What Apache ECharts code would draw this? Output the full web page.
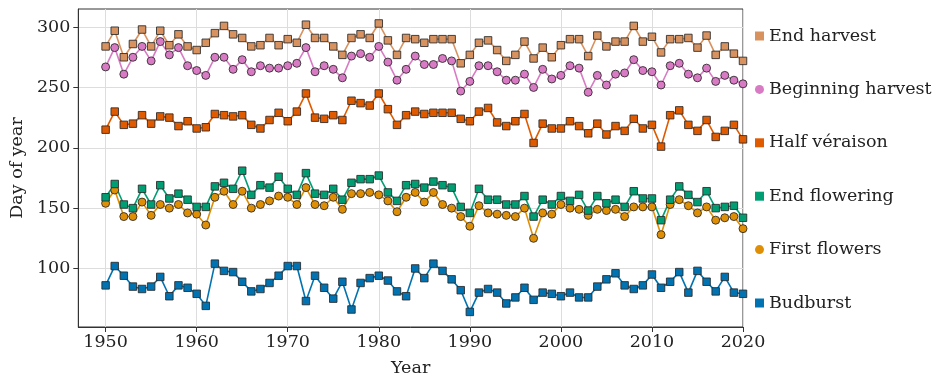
<!DOCTYPE html>
<html>
<head>
<meta charset="utf-8">
<script src="https://cdn.jsdelivr.net/npm/echarts@6/dist/echarts.min.js"></script>
<style>
  html, body { margin: 0; padding: 0; background: #fff; }
  #chart { width: 944px; height: 382px; }
</style>
</head>
<body>
<div id="chart"></div>
<script>
// years on the x axis
const years = [
  1950, 1951, 1952, 1953, 1954, 1955, 1956, 1957, 1958, 1959,
  1960, 1961, 1962, 1963, 1964, 1965, 1966, 1967, 1968, 1969,
  1970, 1971, 1972, 1973, 1974, 1975, 1976, 1977, 1978, 1979,
  1980, 1981, 1982, 1983, 1984, 1985, 1986, 1987, 1988, 1989,
  1990, 1991, 1992, 1993, 1994, 1995, 1996, 1997, 1998, 1999,
  2000, 2001, 2002, 2003, 2004, 2005, 2006, 2007, 2008, 2009,
  2010, 2011, 2012, 2013, 2014, 2015, 2016, 2017, 2018, 2019,
  2020
];
const xTicks = [1950, 1960, 1970, 1980, 1990, 2000, 2010, 2020];
const yTicks = [100, 150, 200, 250, 300];

// day of year for each stage
const budburst = [
  86, 102, 94, 85, 83, 85, 93, 77, 86, 84, 79, 69, 104, 98, 97, 89, 81, 83, 88, 94, 102, 102, 73, 94, 84,
  75, 89, 66, 88, 92, 94, 90, 81, 77, 100, 92, 104, 98, 91, 82, 64, 80, 83, 80, 71, 76, 84, 74, 80, 79,
  77, 80, 76, 76, 85, 91, 96, 86, 83, 86, 95, 84, 89, 97, 80, 98, 89, 81, 93, 80, 79
];
const firstFlowers = [
  154, 165, 143, 143, 155, 144, 153, 150, 153, 146, 145, 136, 159, 164, 153, 164, 150, 153, 156, 160, 159, 153, 167, 153, 152,
  159, 149, 162, 162, 163, 161, 156, 147, 159, 163, 155, 163, 153, 150, 143, 135, 152, 146, 145, 144, 143, 150, 125, 146, 145,
  153, 150, 149, 144, 149, 148, 149, 143, 151, 151, 151, 128, 153, 157, 152, 146, 151, 140, 142, 143, 133
];
const endFlowering = [
  159, 170, 153, 150, 166, 153, 169, 158, 162, 157, 151, 151, 168, 171, 166, 181, 161, 169, 167, 176, 166, 161, 179, 162, 161,
  166, 157, 171, 174, 174, 177, 163, 156, 169, 170, 167, 172, 169, 167, 151, 146, 166, 157, 157, 153, 153, 160, 143, 157, 153,
  160, 156, 161, 148, 160, 154, 157, 151, 164, 158, 158, 140, 157, 168, 161, 155, 164, 150, 151, 152, 142
];
const halfVeraison = [
  215, 230, 219, 220, 227, 220, 226, 225, 218, 222, 216, 217, 228, 227, 226, 227, 219, 216, 223, 229, 222, 230, 245, 225, 224,
  227, 223, 239, 237, 235, 245, 232, 219, 227, 230, 228, 229, 229, 229, 224, 222, 230, 233, 221, 218, 222, 228, 204, 220, 216,
  216, 222, 218, 212, 220, 211, 218, 214, 224, 216, 219, 201, 227, 231, 219, 214, 223, 209, 214, 219, 207
];
const beginningHarvest = [
  267, 283, 261, 275, 284, 272, 288, 277, 283, 268, 264, 260, 275, 275, 265, 273, 263, 268, 266, 266, 268, 270, 283, 263, 268,
  265, 258, 276, 278, 275, 284, 271, 256, 265, 276, 269, 269, 274, 272, 247, 255, 268, 268, 263, 256, 256, 261, 250, 265, 257,
  260, 268, 266, 246, 260, 252, 261, 262, 273, 264, 263, 252, 268, 270, 261, 258, 266, 255, 260, 256, 253
];
const endHarvest = [
  284, 297, 275, 286, 298, 284, 297, 285, 294, 284, 281, 287, 295, 301, 294, 291, 284, 285, 291, 285, 290, 287, 302, 291, 291,
  284, 277, 291, 294, 291, 303, 289, 277, 291, 290, 287, 290, 290, 290, 270, 277, 287, 289, 281, 272, 277, 288, 274, 283, 275,
  285, 290, 290, 276, 293, 284, 288, 288, 301, 288, 292, 279, 290, 290, 291, 283, 293, 277, 284, 278, 272
];

const legendOrder = ['End harvest', 'Beginning harvest', 'Half véraison', 'End flowering', 'First flowers', 'Budburst'];

const font = 'DejaVu Serif';

// drawing order: budburst first, end harvest on top
const stages = [
  { name: 'Budburst', values: budburst, color: '#0173B2', symbol: 'rect' },
  { name: 'First flowers', values: firstFlowers, color: '#DE8F05', symbol: 'circle' },
  { name: 'End flowering', values: endFlowering, color: '#029E73', symbol: 'rect' },
  { name: 'Half véraison', values: halfVeraison, color: '#E05A00', symbol: 'rect' },
  { name: 'Beginning harvest', values: beginningHarvest, color: '#D97AC4', symbol: 'circle' },
  { name: 'End harvest', values: endHarvest, color: '#D8925F', symbol: 'rect' }
];

const chart = echarts.init(document.getElementById('chart'));

const series = stages.map(s => ({
  name: s.name,
  type: 'line',
  data: years.map((y, i) => [y, s.values[i]]),
  symbol: s.symbol,
  symbolSize: s.symbol === 'rect' ? 7.5 : 8,
  showAllSymbol: true,
  lineStyle: { color: s.color, width: 1.6 },
  itemStyle: { color: s.color, borderColor: 'rgba(40,40,40,0.85)', borderWidth: 1 },
  emphasis: { disabled: true },
  animation: false
}));

const option = {
  animation: false,
  grid: {
    left: 78,
    right: 201,
    top: 9,
    bottom: 49,
    show: true,
    borderColor: '#333',
    borderWidth: 1,
    backgroundColor: 'transparent'
  },
  legend: {
    orient: 'vertical',
    left: 750,
    top: 21,
    itemWidth: 9,
    itemHeight: 9,
    itemGap: 33.4,
    selectedMode: false,
    itemStyle: { borderWidth: 0 },
    textStyle: { fontFamily: font, fontSize: 17.5, color: '#222', lineHeight: 20 },
    data: legendOrder.map(n => ({
      name: n,
      icon: stages.find(s => s.name === n).symbol
    }))
  },
  xAxis: {
    type: 'value',
    min: 1947,
    max: 2020,
    splitNumber: 7,
    name: 'Year',
    nameLocation: 'middle',
    nameGap: 32,
    nameTextStyle: { fontFamily: font, fontSize: 17.5, color: '#222' },
    axisLine: { lineStyle: { color: '#333' } },
    axisTick: { show: true, length: 5, customValues: xTicks, lineStyle: { color: '#333' } },
    axisLabel: {
      fontFamily: font,
      fontSize: 17.5,
      color: '#222',
      margin: 6,
      customValues: xTicks,
      formatter: v => String(v)
    },
    splitLine: { show: true, lineStyle: { color: '#dddddd', width: 1 } }
  },
  yAxis: {
    type: 'value',
    min: 51.5,
    max: 315,
    splitNumber: 5,
    name: 'Day of year',
    nameLocation: 'middle',
    nameGap: 52,
    nameTextStyle: { fontFamily: font, fontSize: 17.5, color: '#222' },
    axisLine: { show: true, lineStyle: { color: '#333' } },
    axisTick: { show: true, length: 5, customValues: yTicks, lineStyle: { color: '#333' } },
    axisLabel: {
      fontFamily: font,
      fontSize: 17.5,
      color: '#222',
      margin: 8,
      customValues: yTicks,
      formatter: v => String(v)
    },
    splitLine: { show: true, lineStyle: { color: '#dddddd', width: 1 } }
  },
  series: series
};

chart.setOption(option);
</script>
</body>
</html>
